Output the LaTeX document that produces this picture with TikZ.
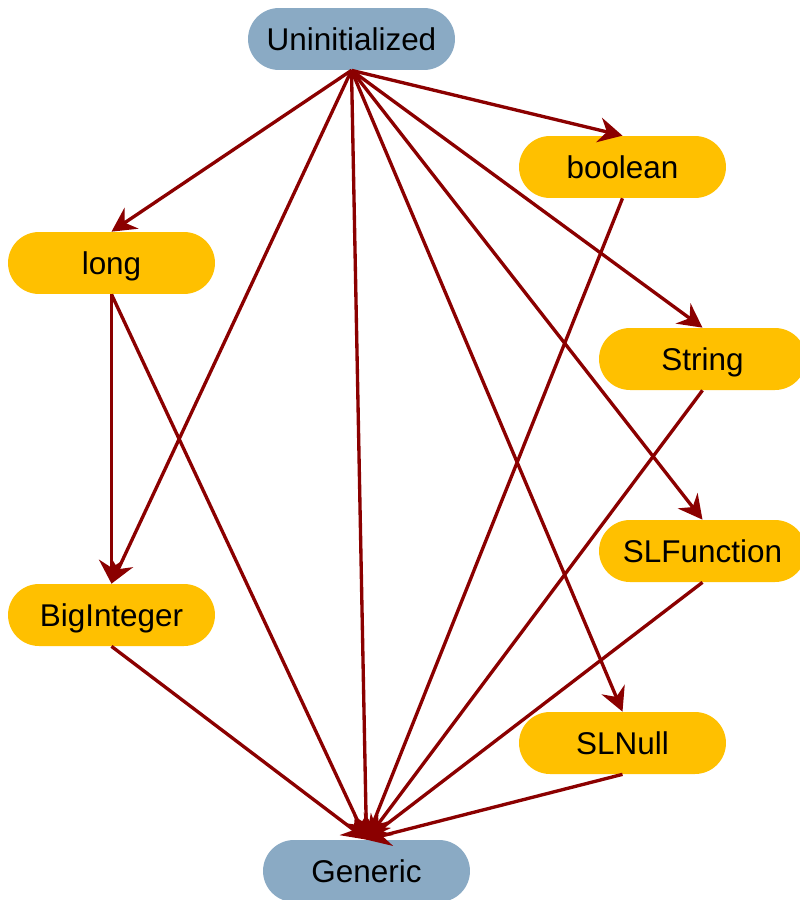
\documentclass[tikz,border=0pt]{standalone}
\usepackage{fontspec}
\setsansfont{Liberation Sans}
\usepackage{xcolor}
\usepackage{tikz}
\usetikzlibrary{arrows.meta}
\definecolor{endBg}{HTML}{8AAAC4}
\definecolor{typeBg}{HTML}{FFC000}
\definecolor{edgeRed}{HTML}{8B0000}

\begin{document}
\begin{tikzpicture}[x=0.02cm,y=-0.02cm,font=\sffamily\fontsize{17.9}{21}\selectfont,
  pill/.style={rounded corners=0.62cm,minimum width=4.14cm,minimum height=1.24cm,inner sep=0pt,
    text height=12.9pt,text depth=0pt,text=black},
  terminal/.style={pill,fill=endBg},
  kind/.style={pill,fill=typeBg},
  flow/.style={-{Stealth[length=4.8mm,width=5mm,inset=1.6mm]},draw=edgeRed,line width=1.9pt}]
  \useasboundingbox (0,0) rectangle (799,900);

  % states
  \node[terminal] (uninit) at (351.5,39) {Uninitialized};
  \node[kind] (bool) at (622.5,167) {boolean};
  \node[kind] (long) at (111.5,263) {long};
  \node[kind] (str) at (702.5,359) {String};
  \node[kind] (slfun) at (702.5,551) {SLFunction};
  \node[kind] (bigint) at (111.5,615) {BigInteger};
  \node[kind] (slnull) at (622.5,743) {SLNull};
  \node[terminal] (generic) at (366.5,871) {Generic};

  % transitions out of Uninitialized
  \draw[flow] (uninit.south) -- (bool.north);
  \draw[flow] (uninit.south) -- (long.north);
  \draw[flow] (uninit.south) -- (str.north);
  \draw[flow] (uninit.south) -- (slfun.north);
  \draw[flow] (uninit.south) -- (slnull.north);
  \draw[flow] (uninit.south) -- (bigint.north);
  \draw[flow] (uninit.south) -- (generic.north);

  % widening
  \draw[flow] (long.south) -- (bigint.north);
  \draw[flow] (long.south) -- (generic.north);
  \draw[flow] (bigint.south) -- (generic.north);
  \draw[flow] (bool.south) -- (generic.north);
  \draw[flow] (str.south) -- (generic.north);
  \draw[flow] (slfun.south) -- (generic.north);
  \draw[flow] (slnull.south) -- (generic.north);
\end{tikzpicture}
\end{document}
